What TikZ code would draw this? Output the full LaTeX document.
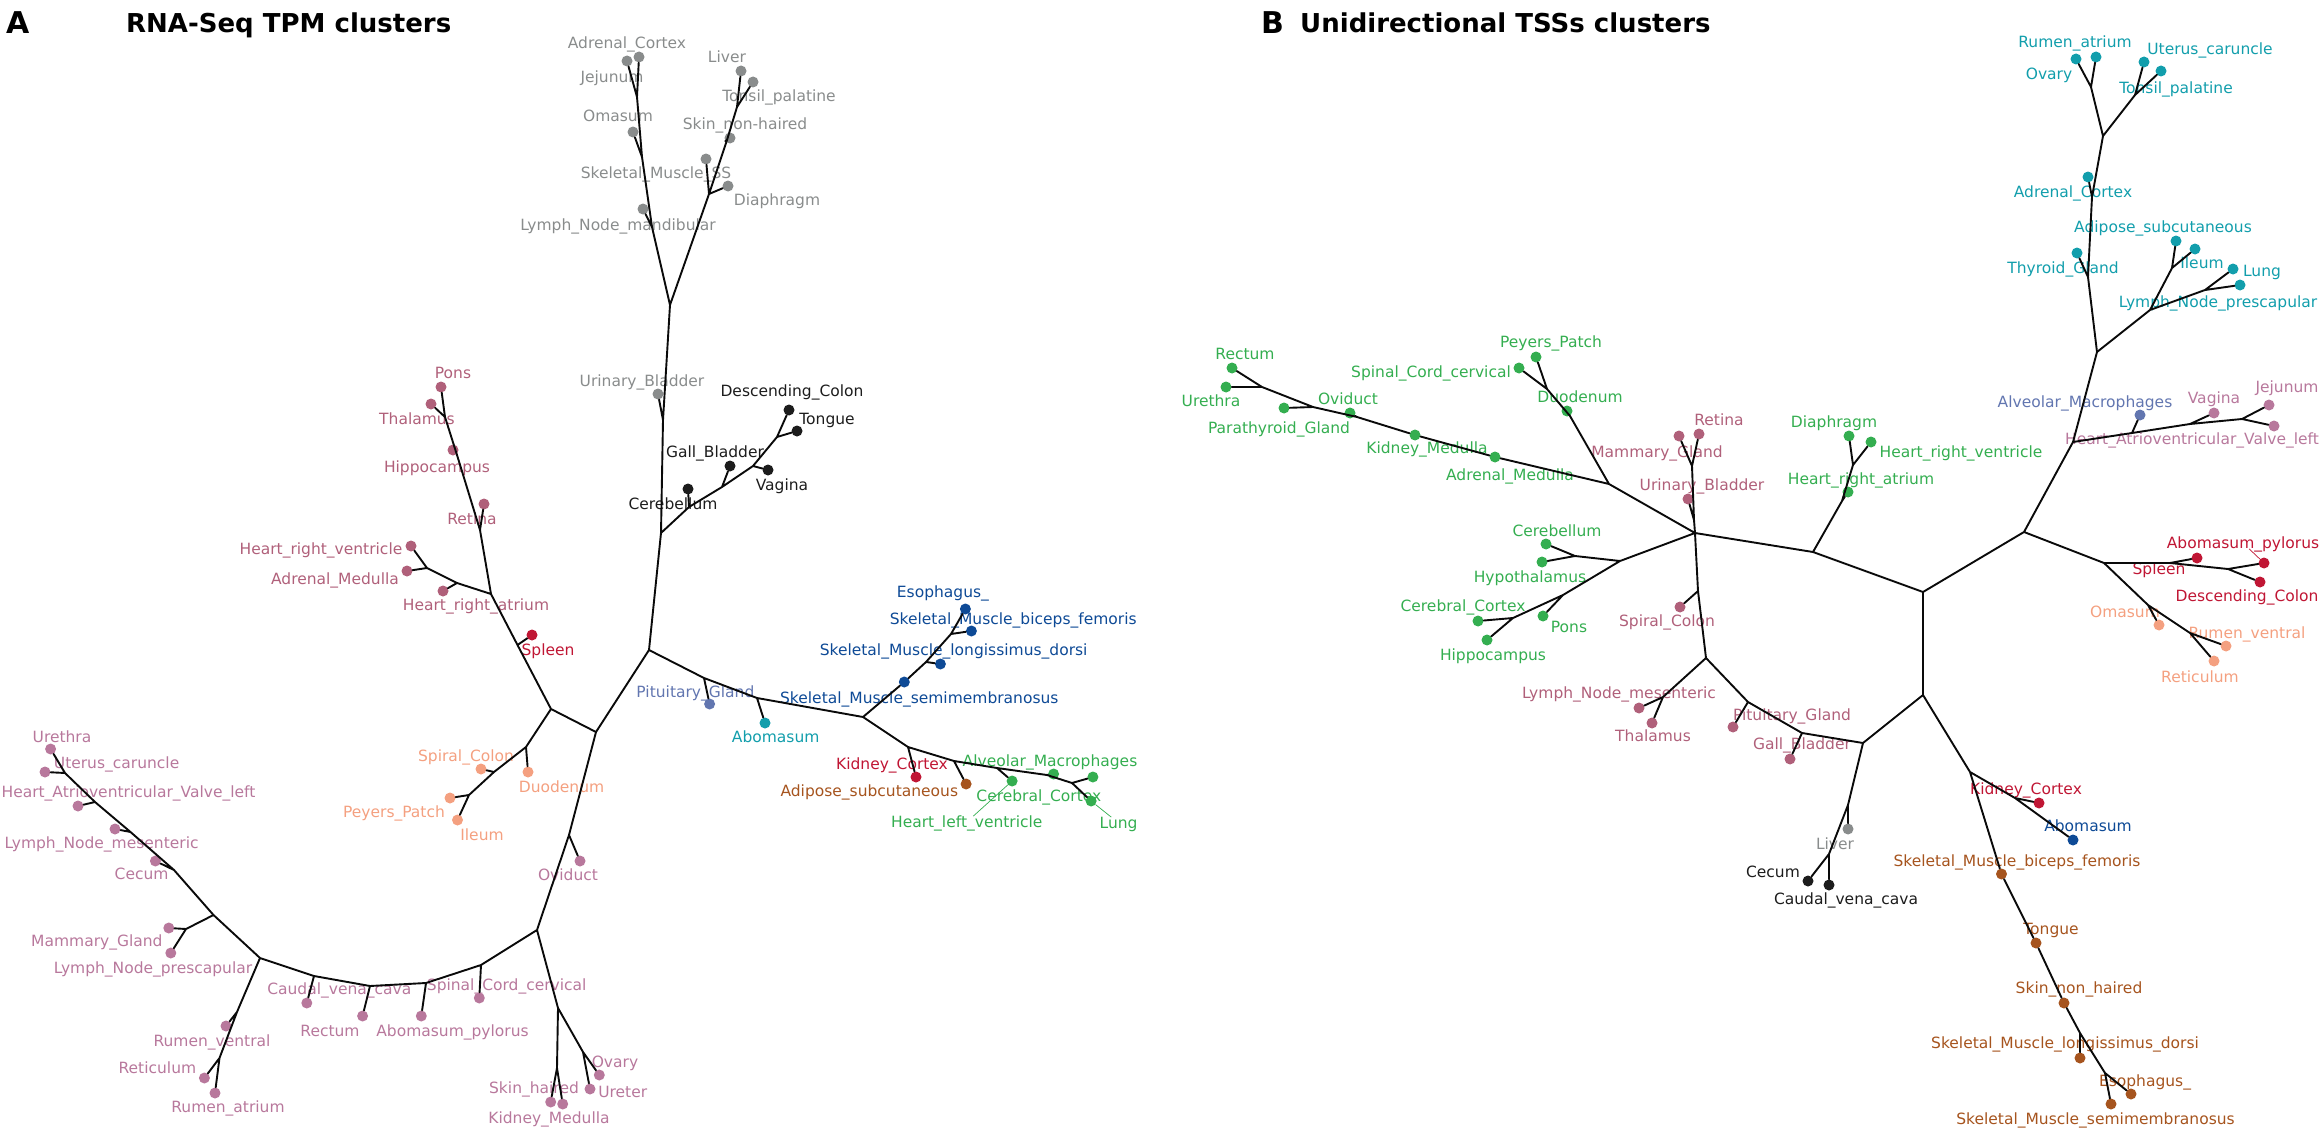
\documentclass[tikz,border=0pt]{standalone}
\usepackage{fontspec}
\setmainfont{DejaVu Sans}
\definecolor{cgray}{RGB}{137,140,140}
\definecolor{cblack}{RGB}{28,28,28}
\definecolor{crose}{RGB}{176,96,122}
\definecolor{cmauve}{RGB}{184,120,156}
\definecolor{csalmon}{RGB}{244,160,128}
\definecolor{cred}{RGB}{192,22,52}
\definecolor{cslate}{RGB}{98,118,176}
\definecolor{cteal}{RGB}{18,158,172}
\definecolor{cnavy}{RGB}{14,74,150}
\definecolor{cbrown}{RGB}{166,84,30}
\definecolor{cgreen}{RGB}{52,174,80}
\definecolor{cedge}{RGB}{10,10,10}
\newcommand\lblfont{\fontsize{15.5}{16}\selectfont}
\newcommand\leafnode[5]{\node[dot,fill=#3] (#1) at (#2) {};\node[lab,text=#3] (#1-l) at (#4) {#5};}
\begin{document}
\begin{tikzpicture}[x=1pt,y=-1pt,
 dot/.style={circle,inner sep=0pt,minimum size=11pt,draw=none},
 lab/.style={inner sep=0pt,font=\lblfont,text height=11.3pt,text depth=0pt},
 br/.style={line width=1.9pt,draw=cedge,line cap=round,line join=round},
 leader/.style={line width=0.7pt},
 ttl/.style={anchor=base west,inner sep=0pt,font=\fontsize{26}{28}\selectfont\bfseries},
 letter/.style={anchor=base west,inner sep=0pt,font=\fontsize{30}{30}\selectfont\bfseries}]
\useasboundingbox (0,0) rectangle (2322,1132);
\node[letter] (tA) at (6,34) {A};
\node[ttl] (tAt) at (126,33) {RNA-Seq TPM clusters};
\node[letter] (tB) at (1261,34) {B};
\node[ttl] (tBt) at (1300,33) {Unidirectional TSSs clusters};
% ---------- Panel A junctions
\coordinate (aC) at (649,650);
\coordinate (aJblk) at (661,533);
\coordinate (aJub) at (663,420);
\coordinate (aJtop) at (670,305);
\coordinate (aJlmn) at (652,227);
\coordinate (aJoma) at (642,157);
\coordinate (aJadr) at (637,97);
\coordinate (aJdia) at (709,194);
\coordinate (aJskin) at (727,140);
\coordinate (aJliv) at (737,107);
\coordinate (aJcer) at (689,507);
\coordinate (aJgall) at (722,487);
\coordinate (aJvag) at (753,466);
\coordinate (aJton) at (777,437);
\coordinate (aJpit) at (704,678);
\coordinate (aJabo) at (757,698);
\coordinate (aJsm) at (863,717);
\coordinate (aJsml) at (926,662);
\coordinate (aJsmb) at (951,634);
\coordinate (aJkc) at (908,747);
\coordinate (aJadi) at (954,761);
\coordinate (aJhlv) at (997,768);
\coordinate (aJalv) at (1047,775);
\coordinate (aJlung) at (1072,783);
\coordinate (aJL) at (596,732);
\coordinate (aJsp) at (551,709);
\coordinate (aJspl) at (517.5,645);
\coordinate (aJhr) at (491,594);
\coordinate (aJret) at (480,530);
\coordinate (aJhip) at (457,455);
\coordinate (aJtha) at (445,417);
\coordinate (aJhra) at (457,583);
\coordinate (aJam) at (427,568);
\coordinate (aJduo) at (526,747);
\coordinate (aJsc) at (494,772);
\coordinate (aJpey) at (469,795);
\coordinate (aJovi) at (569,835);
\coordinate (aJbot) at (537,930);
\coordinate (aJskh) at (558,1008);
\coordinate (aJkm) at (557,1068);
\coordinate (aJova) at (583,1052);
\coordinate (aJscc) at (481,965);
\coordinate (aJabp) at (426,983);
\coordinate (aJrec) at (370,986);
\coordinate (aJcvc) at (314,976);
\coordinate (aJW) at (260,958);
\coordinate (aJrv) at (237,1012);
\coordinate (aJrt) at (219.5,1058);
\coordinate (aJup) at (213.5,915);
\coordinate (aJmam) at (186,929);
\coordinate (aJcec) at (174,870);
\coordinate (aJlnm) at (130.5,832);
\coordinate (aJhav) at (95,802);
\coordinate (aJute) at (65,773);
% ---------- Panel A leaves
\leafnode{aAdrC}{639,57}{cgray}{627,43}{Adrenal\_Cortex}
\leafnode{aJej}{627,61}{cgray}{612,77}{Jejunum}
\leafnode{aOma}{633,132}{cgray}{618,116}{Omasum}
\leafnode{aLNmd}{643,209}{cgray}{618,225}{Lymph\_Node\_mandibular}
\leafnode{aLiv}{741,71}{cgray}{727,57}{Liver}
\leafnode{aTon}{753,82}{cgray}{779,96}{Tonsil\_palatine}
\leafnode{aSkn}{730,138}{cgray}{745,124}{Skin\_non-haired}
\leafnode{aSS}{706,159}{cgray}{656,173}{Skeletal\_Muscle\_SS}
\leafnode{aDia}{728,186}{cgray}{777,200}{Diaphragm}
\leafnode{aUB}{658,394}{cgray}{642,381}{Urinary\_Bladder}
\leafnode{aDC}{789,410}{cblack}{792,391}{Descending\_Colon}
\leafnode{aTng}{797,431}{cblack}{827,419}{Tongue}
\leafnode{aGB}{730,466}{cblack}{715,452}{Gall\_Bladder}
\leafnode{aVag}{768,470}{cblack}{782,485}{Vagina}
\leafnode{aCbl}{688,489}{cblack}{673,504}{Cerebellum}
\leafnode{aPons}{441,387}{crose}{453,373}{Pons}
\leafnode{aThal}{431,404}{crose}{417,419}{Thalamus}
\leafnode{aHip}{453,450}{crose}{437,467}{Hippocampus}
\leafnode{aRet}{484,504}{crose}{472,519}{Retina}
\leafnode{aHRV}{411,546}{crose}{321,549}{Heart\_right\_ventricle}
\leafnode{aAM}{407,571}{crose}{335,579}{Adrenal\_Medulla}
\leafnode{aHRA}{443,591}{crose}{476,605}{Heart\_right\_atrium}
\leafnode{aSpl}{532,635}{cred}{548,650}{Spleen}
\leafnode{aKC}{916,777}{cred}{892,764}{Kidney\_Cortex}
\leafnode{aSpC}{481,769}{csalmon}{466,756}{Spiral\_Colon}
\leafnode{aDuo}{528,772}{csalmon}{561.5,787}{Duodenum}
\leafnode{aPey}{450,798}{csalmon}{394,812}{Peyers\_Patch}
\leafnode{aIle}{457.5,820}{csalmon}{482,835}{Ileum}
\leafnode{aOvi}{580,861}{cmauve}{568,875}{Oviduct}
\leafnode{aUre}{50.6,749}{cmauve}{62,737}{Urethra}
\leafnode{aUtC}{45,772}{cmauve}{116.6,763}{Uterus\_caruncle}
\leafnode{aHAV}{78,806}{cmauve}{128.5,792}{Heart\_Atrioventricular\_Valve\_left}
\leafnode{aLNm}{115,829}{cmauve}{101.6,843}{Lymph\_Node\_mesenteric}
\leafnode{aCec}{155.4,861}{cmauve}{141.6,874}{Cecum}
\leafnode{aMam}{168.8,928}{cmauve}{96.9,941}{Mammary\_Gland}
\leafnode{aLNp}{170.8,953}{cmauve}{153,968}{Lymph\_Node\_prescapular}
\leafnode{aRV}{226,1026}{cmauve}{212,1041}{Rumen\_ventral}
\leafnode{aRtc}{204.4,1078}{cmauve}{157.4,1068}{Reticulum}
\leafnode{aRA}{215,1093}{cmauve}{228,1107}{Rumen\_atrium}
\leafnode{aCVC}{306.8,1003}{cmauve}{339.3,989}{Caudal\_vena\_cava}
\leafnode{aRec}{362.6,1016}{cmauve}{330,1031}{Rectum}
\leafnode{aAbP}{421.3,1016}{cmauve}{452.5,1031}{Abomasum\_pylorus}
\leafnode{aSCC}{479.3,998}{cmauve}{506.7,985}{Spinal\_Cord\_cervical}
\leafnode{aSkh}{550.7,1102}{cmauve}{534,1088}{Skin\_haired}
\leafnode{aKM}{562.7,1104}{cmauve}{549,1118}{Kidney\_Medulla}
\leafnode{aOva}{599.3,1075}{cmauve}{615,1062}{Ovary}
\leafnode{aUrt}{590,1089}{cmauve}{622.7,1092}{Ureter}
\leafnode{aPit}{709.6,704}{cslate}{695.4,692}{Pituitary\_Gland}
\leafnode{aAbo}{765,723}{cteal}{775.7,737}{Abomasum}
\leafnode{aSMs}{904.3,682}{cnavy}{919.3,698}{Skeletal\_Muscle\_semimembranosus}
\leafnode{aSMl}{940.4,664}{cnavy}{953.6,650}{Skeletal\_Muscle\_longissimus\_dorsi}
\leafnode{aSMb}{971.4,631}{cnavy}{1013.2,619}{Skeletal\_Muscle\_biceps\_femoris}
\leafnode{aEso}{965.4,609}{cnavy}{942.9,592}{Esophagus\_}
\leafnode{aAdi}{966.1,784}{cbrown}{869.3,791}{Adipose\_subcutaneous}
\leafnode{aHLV}{1012.1,781}{cgreen}{966.8,822}{Heart\_left\_ventricle}
\leafnode{aAlv}{1053.6,774}{cgreen}{1050,761}{Alveolar\_Macrophages}
\leafnode{aCC}{1092.9,777}{cgreen}{1038.9,796}{Cerebral\_Cortex}
\leafnode{aLung}{1091.1,801}{cgreen}{1118.6,823}{Lung}
% ---------- Panel A edges
\draw[br] (aC) -- (aJblk) -- (aJub) -- (aJtop)
 (aJtop) -- (aJlmn) -- (aJoma) -- (aJadr)
 (aJadr) -- (aAdrC) (aJadr) -- (aJej) (aJoma) -- (aOma) (aJlmn) -- (aLNmd)
 (aJtop) -- (aJdia) -- (aJskin) -- (aJliv)
 (aJdia) -- (aDia) (aJdia) -- (aSS) (aJskin) -- (aSkn) (aJliv) -- (aLiv) (aJliv) -- (aTon)
 (aJub) -- (aUB)
 (aJblk) -- (aJcer) -- (aJgall) -- (aJvag) -- (aJton)
 (aJcer) -- (aCbl) (aJgall) -- (aGB) (aJvag) -- (aVag) (aJton) -- (aDC) (aJton) -- (aTng)
 (aC) -- (aJpit) -- (aJabo) -- (aJsm)
 (aJpit) -- (aPit) (aJabo) -- (aAbo)
 (aJsm) -- (aSMs) -- (aJsml) -- (aJsmb)
 (aJsml) -- (aSMl) (aJsmb) -- (aSMb) (aJsmb) -- (aEso)
 (aJsm) -- (aJkc) -- (aJadi) -- (aJhlv) -- (aJalv) -- (aJlung)
 (aJkc) -- (aKC) (aJadi) -- (aAdi) (aJhlv) -- (aHLV) (aJalv) -- (aAlv) (aJlung) -- (aCC) (aJlung) -- (aLung)
 (aC) -- (aJL) -- (aJsp) -- (aJspl) -- (aJhr)
 (aJspl) -- (aSpl)
 (aJhr) -- (aJret) -- (aJhip) -- (aJtha) -- (aPons) (aJtha) -- (aThal) (aJhip) -- (aHip) (aJret) -- (aRet)
 (aJhr) -- (aJhra) -- (aJam) -- (aHRV) (aJam) -- (aAM) (aJhra) -- (aHRA)
 (aJsp) -- (aJduo) -- (aJsc) -- (aJpey) -- (aPey) (aJpey) -- (aIle) (aJsc) -- (aSpC) (aJduo) -- (aDuo)
 (aJL) -- (aJovi) -- (aJbot) (aJovi) -- (aOvi)
 (aJbot) -- (aJskh) -- (aJkm) -- (aSkh) (aJkm) -- (aKM) (aJskh) -- (aJova) -- (aOva) (aJova) -- (aUrt)
 (aJbot) -- (aJscc) -- (aJabp) -- (aJrec) -- (aJcvc) -- (aJW)
 (aJscc) -- (aSCC) (aJabp) -- (aAbP) (aJrec) -- (aRec) (aJcvc) -- (aCVC)
 (aJW) -- (aJrv) -- (aJrt) -- (aRtc) (aJrt) -- (aRA) (aJrv) -- (aRV)
 (aJW) -- (aJup) -- (aJcec) -- (aJlnm) -- (aJhav) -- (aJute) -- (aUre)
 (aJup) -- (aJmam) -- (aMam) (aJmam) -- (aLNp) (aJcec) -- (aCec) (aJlnm) -- (aLNm) (aJhav) -- (aHAV) (aJute) -- (aUtC);
\draw[leader,cgreen] (aHLV-l) -- (aHLV);
\draw[leader,cgreen] (aLung-l) -- (aLung);
% ---------- Panel B junctions
\coordinate (bJtopL) at (2091,87);
\coordinate (bJtopR) at (2135,95);
\coordinate (bJtop) at (2103,136);
\coordinate (bJadc) at (2092,197);
\coordinate (bJthy) at (2088,277);
\coordinate (bJmid) at (2097,352);
\coordinate (bJlym) at (2150,310);
\coordinate (bJil) at (2172,268);
\coordinate (bJlu) at (2205,290);
\coordinate (bJhav) at (2073,442);
\coordinate (bJalv) at (2132,433);
\coordinate (bJvag) at (2190,424);
\coordinate (bJjej) at (2242,419);
\coordinate (bN) at (2024,532);
\coordinate (bJred) at (2104,563);
\coordinate (bJspl) at (2170,563);
\coordinate (bJdc) at (2228,569);
\coordinate (bJoma) at (2148,605);
\coordinate (bJrv) at (2190,633);
\coordinate (bH3) at (1923,592);
\coordinate (bH4) at (1923,695);
\coordinate (bH2) at (1813,552);
\coordinate (bH1) at (1695,533);
\coordinate (bH6) at (1706,658);
\coordinate (bH5) at (1863,743);
\coordinate (bJpit) at (1748,702);
\coordinate (bJgall) at (1802,733);
\coordinate (bJhra) at (1842,501);
\coordinate (bJdia) at (1853,465);
\coordinate (bJub) at (1694,520);
\coordinate (bJret) at (1692,466);
\coordinate (bJspc) at (1698,591);
\coordinate (bJlnm) at (1663,697);
\coordinate (bJliv) at (1848,805);
\coordinate (bJcec) at (1829,854);
\coordinate (bJk) at (1970,772);
\coordinate (bJkc) at (2015,798);
\coordinate (bJlong) at (2080,1033);
\coordinate (bJeso) at (2105,1073);
\coordinate (bJgr) at (1609,484);
\coordinate (bJduo) at (1570,416);
\coordinate (bJpey) at (1547,389);
\coordinate (bJovi) at (1357,417);
\coordinate (bJpara) at (1313,407);
\coordinate (bJrec) at (1262,387);
\coordinate (bJcb) at (1620,561);
\coordinate (bJcbl) at (1575,556);
\coordinate (bJpons) at (1563,595);
\coordinate (bJcc) at (1513,618);
% ---------- Panel B leaves
\leafnode{bRA}{2096,57}{cteal}{2075,42}{Rumen\_atrium}
\leafnode{bOva}{2076,59}{cteal}{2049,74}{Ovary}
\leafnode{bUtC}{2144,62}{cteal}{2210,49}{Uterus\_caruncle}
\leafnode{bTon}{2161,71}{cteal}{2176,88}{Tonsil\_palatine}
\leafnode{bAdC}{2088,177}{cteal}{2073,192}{Adrenal\_Cortex}
\leafnode{bThy}{2077,253}{cteal}{2063,268}{Thyroid\_Gland}
\leafnode{bAdi}{2176,241}{cteal}{2163,227}{Adipose\_subcutaneous}
\leafnode{bIle}{2195,249}{cteal}{2202,263}{Ileum}
\leafnode{bLung}{2233,269}{cteal}{2262,271}{Lung}
\leafnode{bLNp}{2240,285}{cteal}{2218,302}{Lymph\_Node\_prescapular}
\leafnode{bAlv}{2140,415}{cslate}{2085,402}{Alveolar\_Macrophages}
\leafnode{bVag}{2214,413}{cmauve}{2214,398}{Vagina}
\leafnode{bJej}{2269,405}{cmauve}{2287,387}{Jejunum}
\leafnode{bHAV}{2274,426}{cmauve}{2192,439}{Heart\_Atrioventricular\_Valve\_left}
\leafnode{bSpl}{2197,558}{cred}{2159,569}{Spleen}
\leafnode{bAbP}{2264,563}{cred}{2243,543}{Abomasum\_pylorus}
\leafnode{bDC}{2260,582}{cred}{2247,596}{Descending\_Colon}
\leafnode{bKC}{2039,803}{cred}{2026,789}{Kidney\_Cortex}
\leafnode{bOma}{2159,625}{csalmon}{2125,612}{Omasum}
\leafnode{bRV}{2226,646}{csalmon}{2247,633}{Rumen\_ventral}
\leafnode{bRtc}{2214,661}{csalmon}{2200,677}{Reticulum}
\leafnode{bAbo}{2073,840}{cnavy}{2088,826}{Abomasum}
\leafnode{bLiv}{1848,829}{cgray}{1835,844}{Liver}
\leafnode{bCec}{1808,881}{cblack}{1773,872}{Cecum}
\leafnode{bCVC}{1829,885}{cblack}{1846,899}{Caudal\_vena\_cava}
\leafnode{bSMb}{2001.5,874}{cbrown}{2017,861}{Skeletal\_Muscle\_biceps\_femoris}
\leafnode{bTng}{2036,943}{cbrown}{2051,929}{Tongue}
\leafnode{bSkn}{2064,1003}{cbrown}{2079,988}{Skin\_non\_haired}
\leafnode{bSMl}{2080,1058}{cbrown}{2065,1043}{Skeletal\_Muscle\_longissimus\_dorsi}
\leafnode{bEso}{2131,1094}{cbrown}{2145,1081}{Esophagus\_}
\leafnode{bSMs}{2111,1104}{cbrown}{2095.5,1119}{Skeletal\_Muscle\_semimembranosus}
\leafnode{bRet}{1699,434}{crose}{1719,420}{Retina}
\leafnode{bMam}{1679,436}{crose}{1657,452}{Mammary\_Gland}
\leafnode{bUB}{1688,499}{crose}{1702,485}{Urinary\_Bladder}
\leafnode{bSpC}{1680,607}{crose}{1667,621}{Spiral\_Colon}
\leafnode{bLNm}{1639,708}{crose}{1619,693}{Lymph\_Node\_mesenteric}
\leafnode{bThal}{1652,723}{crose}{1653,736}{Thalamus}
\leafnode{bPit}{1733,727}{crose}{1792,715}{Pituitary\_Gland}
\leafnode{bGB}{1790,759}{crose}{1802,744}{Gall\_Bladder}
\leafnode{bDia}{1849,436}{cgreen}{1834,422}{Diaphragm}
\leafnode{bHRV}{1871,442}{cgreen}{1961,452}{Heart\_right\_ventricle}
\leafnode{bHRA}{1848,492}{cgreen}{1861,479}{Heart\_right\_atrium}
\leafnode{bRec}{1232,368}{cgreen}{1245,354}{Rectum}
\leafnode{bUre}{1226,387}{cgreen}{1211,401}{Urethra}
\leafnode{bPara}{1284,408}{cgreen}{1279,428}{Parathyroid\_Gland}
\leafnode{bOvi}{1350,413}{cgreen}{1348,399}{Oviduct}
\leafnode{bKM}{1415,435}{cgreen}{1427,448}{Kidney\_Medulla}
\leafnode{bAdM}{1495,457}{cgreen}{1510,475}{Adrenal\_Medulla}
\leafnode{bPey}{1536,357}{cgreen}{1551,342}{Peyers\_Patch}
\leafnode{bSCC}{1519,368}{cgreen}{1431,372}{Spinal\_Cord\_cervical}
\leafnode{bDuo}{1567,411}{cgreen}{1580,397}{Duodenum}
\leafnode{bCbl}{1546,544}{cgreen}{1557,531}{Cerebellum}
\leafnode{bHyp}{1542,562}{cgreen}{1530,577}{Hypothalamus}
\leafnode{bCC}{1478,621}{cgreen}{1463,606}{Cerebral\_Cortex}
\leafnode{bPons}{1543,616}{cgreen}{1569,627}{Pons}
\leafnode{bHip}{1487,640}{cgreen}{1493,655}{Hippocampus}
% ---------- Panel B edges
\draw[br] (bJtop) -- (bJtopL) -- (bRA) (bJtopL) -- (bOva) (bJtop) -- (bJtopR) -- (bUtC) (bJtopR) -- (bTon)
 (bJtop) -- (bJadc) -- (bJthy) -- (bJmid) -- (bJhav) -- (bN)
 (bJadc) -- (bAdC) (bJthy) -- (bThy)
 (bJmid) -- (bJlym) -- (bJil) -- (bAdi) (bJil) -- (bIle) (bJlym) -- (bJlu) -- (bLung) (bJlu) -- (bLNp)
 (bJhav) -- (bJalv) -- (bJvag) -- (bJjej) -- (bJej) (bJjej) -- (bHAV) (bJvag) -- (bVag) (bJalv) -- (bAlv)
 (bN) -- (bJred) -- (bJspl) -- (bSpl) (bJspl) -- (bJdc) -- (bAbP) (bJdc) -- (bDC)
 (bJred) -- (bJoma) -- (bJrv) -- (bRV) (bJrv) -- (bRtc) (bJoma) -- (bOma)
 (bN) -- (bH3) -- (bH4) -- (bH5) -- (bJgall) -- (bJpit) -- (bH6) -- (bJspc) -- (bH1) -- (bH2) -- (bH3)
 (bJgall) -- (bGB) (bJpit) -- (bPit) (bJspc) -- (bSpC)
 (bH2) -- (bJhra) -- (bJdia) -- (bDia) (bJdia) -- (bHRV) (bJhra) -- (bHRA)
 (bH5) -- (bJliv) -- (bJcec) -- (bCec) (bJcec) -- (bCVC) (bJliv) -- (bLiv)
 (bH4) -- (bJk) -- (bJkc) -- (bKC) (bJkc) -- (bAbo)
 (bJk) -- (bSMb) -- (bTng) -- (bSkn) -- (bJlong) -- (bSMl) (bJlong) -- (bJeso) -- (bEso) (bJeso) -- (bSMs)
 (bH6) -- (bJlnm) -- (bLNm) (bJlnm) -- (bThal)
 (bH1) -- (bJub) -- (bJret) -- (bRet) (bJret) -- (bMam) (bJub) -- (bUB)
 (bH1) -- (bJcb) -- (bJcbl) -- (bCbl) (bJcbl) -- (bHyp) (bJcb) -- (bJpons) -- (bPons) (bJpons) -- (bJcc) -- (bCC) (bJcc) -- (bHip)
 (bH1) -- (bJgr) -- (bJduo) -- (bJpey) -- (bPey) (bJpey) -- (bSCC) (bJduo) -- (bDuo)
 (bJgr) -- (bAdM) -- (bKM) -- (bJovi) -- (bJpara) -- (bJrec) -- (bRec) (bJrec) -- (bUre) (bJpara) -- (bPara) (bJovi) -- (bOvi);
\draw[leader,cred] (bAbP-l) -- (bAbP);
\end{tikzpicture}
\end{document}
